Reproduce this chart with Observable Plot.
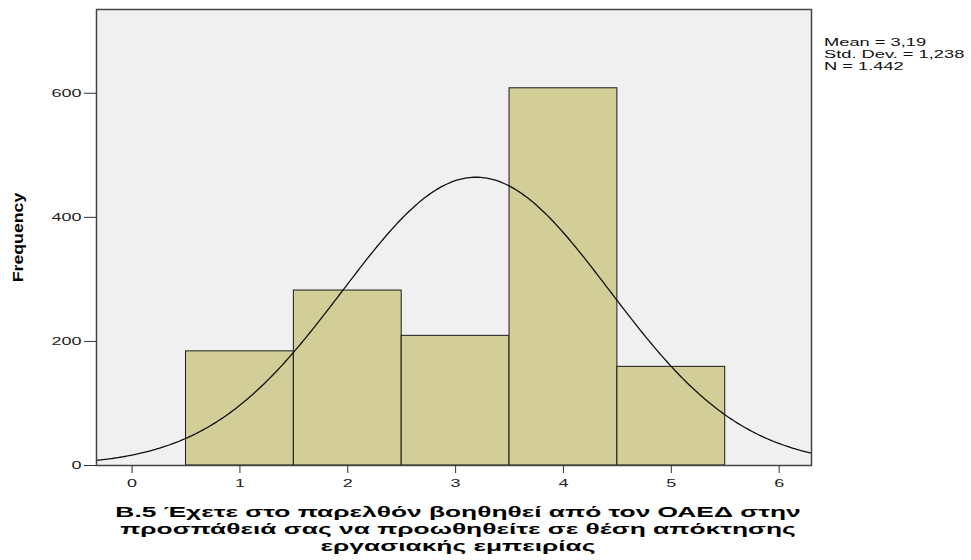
<!DOCTYPE html>
<html><head><meta charset="utf-8">
<script src="https://cdn.jsdelivr.net/npm/d3@7"></script>
<script src="https://cdn.jsdelivr.net/npm/@observablehq/plot@0.6"></script>
<style>
body{margin:0;background:#fff;font-family:"Liberation Sans",Arial,sans-serif;}
#wrap{position:relative;width:971px;height:560px;overflow:hidden;}
#stats{position:absolute;left:824px;top:36px;font-size:10.5px;line-height:12px;color:#111;transform:scaleX(1.74);transform-origin:0 0;white-space:nowrap;}
#xlab{position:absolute;left:96px;width:724px;top:504px;text-align:center;font-weight:bold;font-size:14px;line-height:17px;color:#000;transform:scaleX(1.88);transform-origin:50% 0;white-space:nowrap;}
g[aria-label="y-axis label"] text{font-family:"Liberation Sans",Arial,sans-serif;font-weight:bold;font-size:15px;fill:#000;}
</style></head>
<body><div id="wrap"><div id="chart"></div>
<div id="stats">Mean = 3,19<br>Std. Dev. = 1,238<br>N = 1.442</div>
<div id="xlab">Β.5 Έχετε στο παρελθόν βοηθηθεί από τον ΟΑΕΔ στην<br>προσπάθειά σας να προωθηθείτε σε θέση απόκτησης<br>εργασιακής εμπειρίας</div>
</div>
<script>
const categories = [1, 2, 3, 4, 5];
const frequencies = [184, 282, 209, 608, 159];
const yTicks = [0, 200, 400, 600];
const xTicks = [0, 1, 2, 3, 4, 5, 6];
const statMean = 3.19;
const statSD = 1.238;
const statN = 1442;

const bars = categories.map((c, i) => ({x1: c - 0.5, x2: c + 0.5, y: frequencies[i]}));
const xmin = -0.33, xmax = 6.3;
const curve = d3.range(xmin, xmax + 0.001, 0.02).map(x => ({
  x, y: statN * Math.exp(-0.5 * ((x - statMean) / statSD) ** 2) / (statSD * Math.sqrt(2 * Math.PI))
}));

const chart = Plot.plot({
  width: 971, height: 500,
  marginLeft: 96, marginRight: 160, marginTop: 9, marginBottom: 35,
  style: {fontFamily: "'Liberation Sans', Arial, sans-serif", fontSize: "11.6px", color: "#222", background: "#fff"},
  x: {domain: [xmin, xmax]},
  y: {domain: [0, 735]},
  marks: [
    Plot.frame({fill: "#f0f0f0", stroke: "none"}),
    Plot.rectY(bars, {x1: "x1", x2: "x2", y: "y", fill: "#d3ce97", stroke: "#1a1a1a", strokeWidth: 1, inset: 0}),
    Plot.line(curve, {x: "x", y: "y", stroke: "#111", strokeWidth: 1.3, clip: true}),
    Plot.frame({stroke: "#444", strokeWidth: 1.5}),
    Plot.axisY({ticks: yTicks, tickSize: 12, tickPadding: 3, tickFormat: d => d, label: "Frequency", labelAnchor: "center", labelArrow: "none", labelOffset: 84, stroke: "#333", fontSize: 11.6}),
    Plot.axisX({ticks: xTicks, tickSize: 8, tickPadding: 5, tickFormat: d => d, label: null, stroke: "#333", fontSize: 11.6})
  ]
});
document.getElementById("chart").appendChild(chart);

// horizontal stretch of the text, as in the reference rendering
const stretch = (sel, k) => d3.select(chart).selectAll(sel).attr("transform", function () {
  return (this.getAttribute("transform") || "") + ` scale(${k},1)`;
});
stretch('g[aria-label="y-axis tick label"] text', 1.55);
stretch('g[aria-label="x-axis tick label"] text', 1.55);
stretch('g[aria-label="y-axis label"] text', 1.18);
</script></body></html>
